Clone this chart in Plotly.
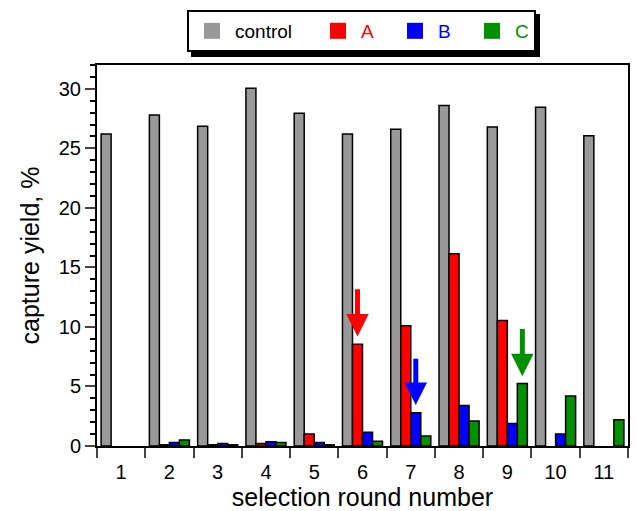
import plotly.graph_objects as go

rounds = [str(i) for i in range(1, 12)]
control = [26.2, 27.8, 26.85, 30.05, 27.95, 26.2, 26.6, 28.6, 26.8, 28.45, 26.05]
series_a = [None, 0.1, 0.1, 0.2, 1.0, 8.55, 10.1, 16.15, 10.55, None, None]
series_b = [None, 0.3, 0.2, 0.35, 0.3, 1.15, 2.8, 3.4, 1.9, 1.0, None]
series_c = [None, 0.5, 0.1, 0.3, 0.1, 0.4, 0.85, 2.1, 5.25, 4.2, 2.2]

FONT = "Liberation Sans, Arial, sans-serif"
BARGAP = 0.17
bw = (1 - BARGAP) / 4

W, H = 638, 511
L, R, T, B = 97, 10, 65, 65
PW, PH = W - L - R, H - T - B

fig = go.Figure()
specs = [("control", control, "#999999", "black", 75),
         ("A", series_a, "#ff0000", "#ff0000", 26),
         ("B", series_b, "#0000ff", "#0000ff", 26),
         ("C", series_c, "#009100", "#009100", 14)]
for name, vals, col, tcol, lw in specs:
    fig.add_trace(go.Bar(x=rounds, y=vals, name=name, showlegend=False,
                         marker=dict(color=col, line=dict(color="black", width=1.5))))
for name, vals, col, tcol, lw in specs:
    label = name if name == "control" else f"<span style='color:{tcol}'>{name}</span>"
    fig.add_trace(go.Scatter(x=[None], y=[None], mode="markers", name=label, legendwidth=lw,
                             marker=dict(symbol="square", size=16, color=col, line=dict(width=0))))

# arrows: (round index, series index, tip value, tail value, color)
arrows = [(5, 1, 9.2, 13.3, "#ff0000"), (6, 2, 3.45, 7.45, "#0000ff"), (8, 3, 5.85, 9.95, "#009100")]
for ri, si, tip, tail, col in arrows:
    xp = ri + (si - 1.5) * bw
    fig.add_annotation(x=xp, y=tip, ax=xp, ay=tail, xref="x", yref="y", axref="x", ayref="y",
                       text="", showarrow=True, arrowhead=2, arrowsize=0.9, arrowwidth=5, arrowcolor=col)

# legend shadow
fig.add_shape(type="rect", xref="paper", yref="paper", layer="above",
              x0=(191 - L) / PW, x1=(540 - L) / PW, y0=(H - B - 57) / PH, y1=(H - B - 14) / PH,
              fillcolor="black", line=dict(width=0))

fig.update_layout(
    width=W, height=H,
    margin=dict(l=L, r=R, t=T, b=B),
    paper_bgcolor="white", plot_bgcolor="white",
    barmode="group", bargap=BARGAP, bargroupgap=0,
    font=dict(family=FONT, color="black"),
    legend=dict(orientation="h", xref="container", yref="container", x=187 / W, xanchor="left",
                y=1 - 10 / H, yanchor="top",
                bgcolor="white", bordercolor="black", borderwidth=2,
                font=dict(size=19, family=FONT), itemwidth=36, traceorder="normal"),
    xaxis=dict(type="category", tickson="boundaries", ticks="outside", ticklen=10, tickwidth=2,
               showline=True, linewidth=2, linecolor="black", mirror=True, showgrid=False,
               automargin=False, tickfont=dict(size=20), ticklabelstandoff=7,
               title=dict(text="selection round number", font=dict(size=25), standoff=6)),
    yaxis=dict(range=[0, 32], tickmode="array", tickvals=[0, 5, 10, 15, 20, 25, 30], ticks="outside",
               ticklen=10, tickwidth=2, showline=True, linewidth=2, linecolor="black", mirror=True,
               showgrid=False, zeroline=False, automargin=False, tickfont=dict(size=20),
               minor=dict(dtick=1, ticks="outside", ticklen=5, tickwidth=1.5, tickcolor="black", showgrid=False),
               title=dict(text="capture yield, %", font=dict(size=25), standoff=12)),
)

fig.write_html("out.html", config={"displayModeBar": False},
               post_script="document.body.style.margin='0';document.body.style.padding='0';")
